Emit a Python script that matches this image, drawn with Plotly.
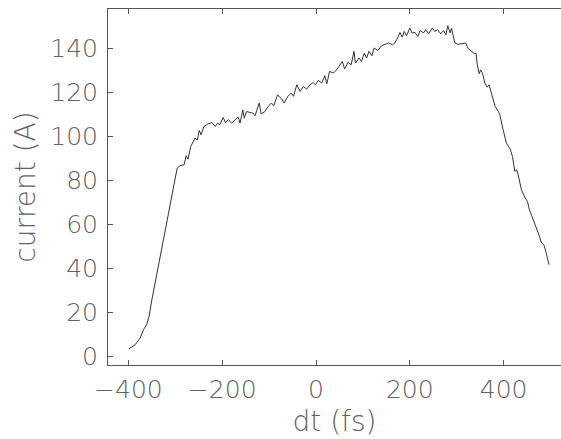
import plotly.graph_objects as go

# Longitudinal current profile: time offset (fs) vs current (A)
dt_fs = [
    -399, -386, -375, -368, -361, -356, -350, -343, -336, -329, -322, -315,
    -308, -301, -296, -290, -281, -277, -273, -267, -262, -258, -253, -249,
    -245, -239, -230, -222, -215, -210, -205, -198, -193, -187, -180, -173,
    -166, -162, -156, -153, -148, -141, -135, -130, -125, -121, -117, -109,
    -102, -95, -90, -82, -73, -68, -60, -53, -48, -41, -34, -27, -20, -13,
    -6, -1, 5, 12, 19, 23, 29, 37, 44, 51, 56, 61, 68, 75, 81, 84, 92, 97,
    103, 108, 113, 119, 124, 132, 140, 149, 155, 163, 168, 174, 179, 184,
    188, 193, 200, 205, 211, 217, 222, 229, 234, 240, 248, 253, 259, 266,
    272, 277, 281, 286, 289, 292, 296, 303, 314, 319, 325, 332, 339, 341,
    344, 348, 351, 355, 360, 365, 369, 375, 382, 389, 392, 399, 406, 414,
    419, 424, 428, 431, 438, 446, 451, 455, 462, 467, 474, 481, 486, 490,
    493, 497,
]
current_a = [
    3.3, 5.1, 8.2, 12.0, 14.3, 18.0, 25.6, 33.3, 40.8, 48.4, 56.0, 63.6,
    72.7, 80.3, 85.6, 86.7, 87.2, 91.3, 89.7, 95.5, 97.8, 99.3, 98.5, 102.8,
    100.8, 104.6, 105.8, 106.4, 104.6, 106.1, 105.4, 108.7, 106.4, 107.7, 106.1, 107.4,
    108.9, 106.1, 112.2, 108.4, 111.4, 111.0, 110.7, 109.5, 112.2, 115.3, 110.3, 111.4,
    113.7, 115.3, 114.0, 119.0, 117.1, 115.3, 118.3, 119.8, 118.3, 123.6, 120.6, 122.8, 121.6, 123.6,
    124.6, 123.6, 125.6, 124.4, 127.7, 124.0, 129.7, 128.9, 130.4, 132.7, 134.2, 130.8, 133.8, 132.7, 138.8, 133.5, 135.8, 134.2,
    138.0, 135.8, 138.8, 136.8, 140.3, 139.2, 141.4, 142.1, 142.6, 141.8, 142.6, 144.9, 147.4, 145.3,
    147.9, 145.9, 149.4, 147.2, 147.4, 145.6, 148.3, 147.2, 148.7, 146.8, 149.4, 147.9, 148.7, 146.8,
    148.3, 146.4, 150.5, 147.2, 149.4, 146.4, 142.6, 142.0, 142.3, 142.6, 139.9, 138.8, 137.7, 138.0,
    132.7, 128.6, 130.4, 128.9, 124.4, 122.5, 123.6, 119.0, 113.7, 111.4, 109.9, 103.1, 97.0, 94.3,
    90.9, 84.1, 84.9, 82.6, 75.8, 72.0, 70.4, 66.7, 62.9, 59.8, 56.0, 51.5, 50.7, 47.7,
    45.4, 41.6,
]

x_ticks = [-400, -200, 0, 200, 400]
y_ticks = [0, 20, 40, 60, 80, 100, 120, 140]

axis_color = "#555555"
text_font = dict(family="DejaVu Sans", size=25, color="#626262", weight=200)
title_font = dict(family="DejaVu Sans", size=28, color="#626262", weight=200)

fig = go.Figure(
    go.Scatter(
        x=dt_fs,
        y=current_a,
        mode="lines",
        line=dict(color="#333333", width=1),
        showlegend=False,
        hoverinfo="skip",
    )
)

fig.update_layout(
    width=561,
    height=439,
    margin=dict(l=108, r=0, t=9, b=74),
    paper_bgcolor="white",
    plot_bgcolor="white",
)

fig.update_xaxes(
    range=[-443.5, 522.4],
    tickvals=x_ticks,
    ticks="inside",
    ticklen=5,
    tickcolor=axis_color,
    showline=True,
    linecolor=axis_color,
    linewidth=1,
    mirror="ticks",
    showgrid=False,
    zeroline=False,
    tickfont=text_font,
    ticklabelstandoff=2,
    title=dict(text="dt (fs)", font=title_font, standoff=8),
)

fig.update_yaxes(
    range=[-4.05, 158.1],
    tickvals=y_ticks,
    ticks="inside",
    ticklen=5,
    tickcolor=axis_color,
    showline=True,
    linecolor=axis_color,
    linewidth=1,
    showgrid=False,
    zeroline=False,
    tickfont=text_font,
    ticklabelstandoff=4,
    title=dict(text="current (A)", font=title_font, standoff=6),
)

fig.write_html("out.html")
